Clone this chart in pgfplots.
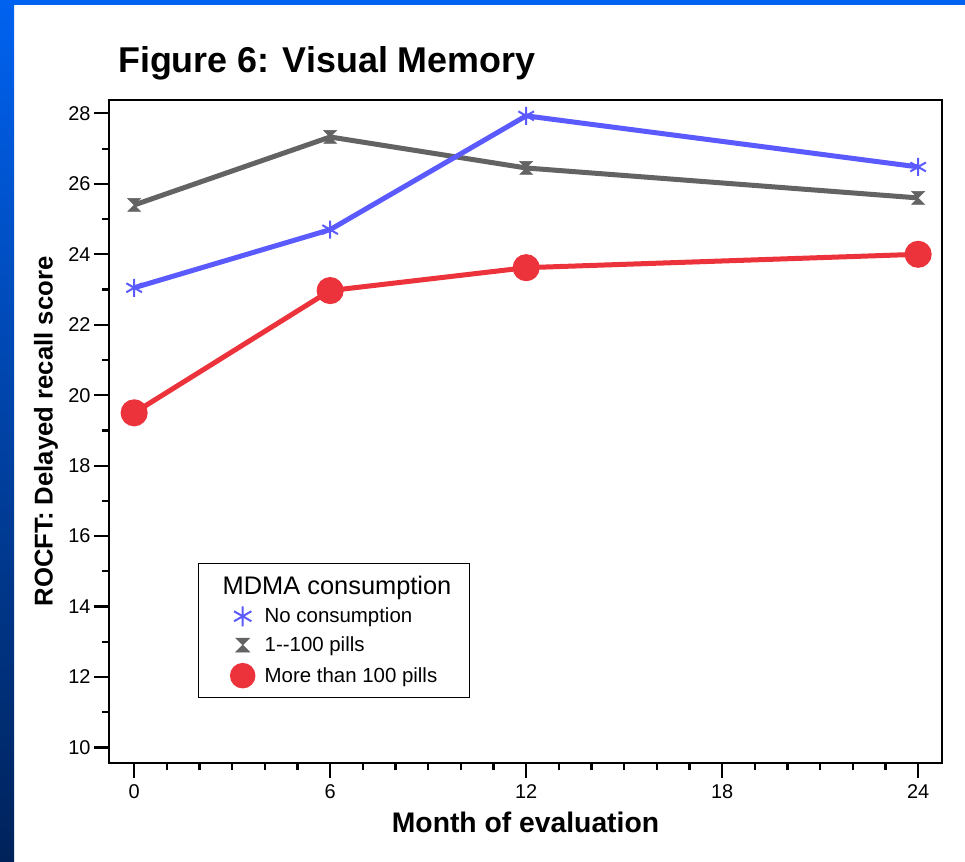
\documentclass[border=0pt]{standalone}
\usepackage{fontspec}
\setmainfont{Liberation Sans}
\usepackage{pgfplots}
\pgfplotsset{compat=1.18}
\definecolor{cblue}{RGB}{90,90,255}
\definecolor{cgray}{RGB}{99,99,99}
\definecolor{cred}{RGB}{236,50,58}
\definecolor{topblue}{RGB}{0,98,240}
\definecolor{botblue}{RGB}{0,34,90}
\pgfdeclareplotmark{hourglass}{%
 \pgfpathmoveto{\pgfqpoint{-\pgfplotmarksize}{\pgfplotmarksize}}%
 \pgfpathlineto{\pgfqpoint{\pgfplotmarksize}{\pgfplotmarksize}}%
 \pgfpathlineto{\pgfqpoint{-\pgfplotmarksize}{-\pgfplotmarksize}}%
 \pgfpathlineto{\pgfqpoint{\pgfplotmarksize}{-\pgfplotmarksize}}%
 \pgfpathclose
 \pgfusepathqfillstroke}
\begin{document}
\begin{tikzpicture}
\fill[white] (0bp,0bp) rectangle (965bp,862bp);
\fill[topblue] (0bp,857bp) rectangle (965bp,862bp);
\shade[top color=topblue, bottom color=botblue] (0bp,0bp) rectangle (14bp,862bp);
\node[anchor=base west, inner sep=0pt, font=\fontsize{36}{40}\selectfont\bfseries] at (118bp,789bp) {Figure 6: Visual Memory};
\begin{axis}[
  at={(109bp,99bp)}, anchor=south west, scale only axis,
  width=833bp, height=663bp,
  xmin=-0.77, xmax=24.73, ymin=9.56, ymax=28.38,
  xtick={0,6,12,18,24}, minor x tick num=5,
  ytick={10,12,...,28}, minor y tick num=1,
  tick pos=left, tick align=outside,
  major tick length=15bp, minor tick length=7bp,
  every tick/.style={black, line width=2.2bp},
  axis line style={line width=2.6bp},
  ticklabel style={font=\fontsize{20}{24}\selectfont},
  xticklabel style={yshift=-3bp},
  /pgf/number format/assume math mode=true,
  xlabel={Month of evaluation},
  ylabel={ROCFT: Delayed recall score},
  xlabel style={font=\fontsize{28.4}{32}\selectfont\bfseries, at={(axis description cs:0.5,-0.089)}, anchor=center},
  ylabel style={font=\fontsize{25.8}{30}\selectfont\bfseries, at={(axis description cs:-0.0756,0.5)}, anchor=center},
  legend style={at={(axis description cs:0.1068,0.3017)}, anchor=north west, draw=black, line width=1.5bp,
    font=\fontsize{20.5}{24}\selectfont, inner xsep=16bp, inner ysep=10bp, row sep=8.5bp},
  legend cell align=left,
  legend image code/.code={\path[draw=none,fill=none] (0bp,-1bp) rectangle (48bp,1bp); \draw[#1] plot[only marks] coordinates {(28bp,0bp)};},
]
\addlegendimage{empty legend}
\addlegendentry{\hspace*{-42bp}\fontsize{25.5}{30}\selectfont MDMA consumption\rule[-10bp]{0pt}{9bp}}
\addplot[cgray, line width=5bp, mark=hourglass, mark size=6.5bp, mark options={line width=0.5bp, fill=cgray, draw=cgray}, forget plot]
  coordinates {(0,25.4) (6,27.33) (12,26.45) (24,25.6)};
\addplot[cblue, line width=5bp, mark=asterisk, mark size=9bp, mark options={line width=2bp}, forget plot]
  coordinates {(0,23.05) (6,24.7) (12,27.93) (24,26.48)};
\addplot[cred, line width=5bp, mark=*, mark size=11bp, mark options={fill=cred, draw=cred}, forget plot]
  coordinates {(0,19.5) (6,22.97) (12,23.62) (24,24.0)};
\addlegendimage{cblue, mark=asterisk, mark size=10bp, mark options={line width=2bp}}
\addlegendentry{No consumption}
\addlegendimage{cgray, mark=hourglass, mark size=7bp, mark options={line width=0.5bp, fill=cgray, draw=cgray}}
\addlegendentry{1-{}-100 pills}
\addlegendimage{cred, mark=*, mark size=12bp, mark options={fill=cred, draw=cred}}
\addlegendentry{More than 100 pills}
\end{axis}
\end{tikzpicture}
\end{document}
